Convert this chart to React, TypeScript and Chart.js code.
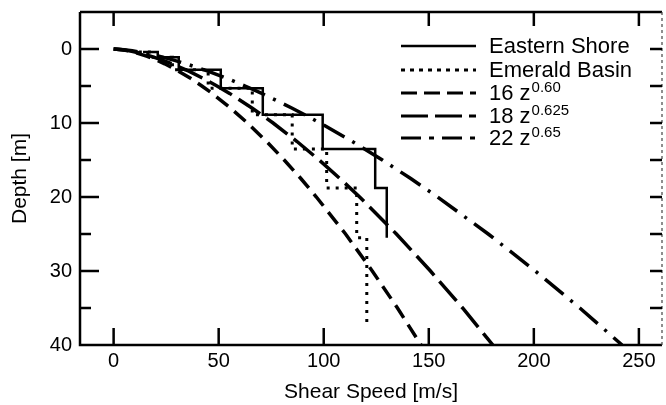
import { useEffect, useRef } from "react";
import { Chart, registerables } from "chart.js";
Chart.register(...registerables);

// ---- data ----
const depthGrid = [0, 0.1, 0.25, 0.5, 1, 1.5, 2, 3, 4, 5, 6, 8, 10, 12.5, 15, 17.5, 20, 25, 30, 35, 40];
const fit16 = [0, 4.0, 7.0, 10.6, 16, 20.4, 24.3, 30.9, 36.8, 42.0, 46.9, 55.7, 63.7, 72.8, 81.2, 89.1, 96.5, 110.4, 123.1, 135.1, 146.3];
const fit18 = [0, 4.3, 7.6, 11.7, 18, 23.2, 27.8, 35.8, 42.8, 49.2, 55.2, 66.0, 75.9, 87.3, 97.8, 107.7, 117.1, 134.6, 150.8, 166.1, 180.5];
const fit22 = [0, 4.9, 8.9, 14.0, 22, 28.6, 34.5, 44.9, 54.2, 62.6, 70.5, 85.0, 98.3, 113.6, 127.9, 141.4, 154.2, 178.3, 200.7, 221.9, 242.0];

const eastSpeed = [14, 21, 21, 31, 31, 51, 51, 71, 71, 99.5, 99.5, 124.5, 124.5, 130, 130];
const eastDepth = [0.4, 0.4, 1.1, 1.1, 2.8, 2.8, 5.3, 5.3, 8.9, 8.9, 13.5, 13.5, 18.8, 18.8, 25.5];

const emerSpeed = [12, 18, 18, 28, 28, 45, 45, 66, 66, 85, 85, 101.4, 101.4, 115.7, 115.7, 120.5, 120.5];
const emerDepth = [0.4, 0.4, 1.1, 1.1, 2.8, 2.8, 5.3, 5.3, 8.9, 8.9, 13.5, 13.5, 18.8, 18.8, 25.5, 25.5, 37.5];

const xTickValues = [0, 50, 100, 150, 200, 250];
const yTickValues = [0, 10, 20, 30, 40];
const yMinorValues = [5, 15, 25, 35];
const yRightTicks = [0, 5, 10, 15, 20, 25, 30, 35];

const legendNames = ["Eastern Shore", "Emerald Basin", "16 z", "18 z", "22 z"];
const legendSup = ["", "", "0.60", "0.625", "0.65"];

const FONT = "'Liberation Sans', Arial, Helvetica, sans-serif";

const dashes: number[][] = [[], [3, 6], [15, 8], [26, 8], [24, 9, 3, 9]];
const legendDashes: number[][] = [[], [4, 5], [16, 7], [27, 7], [20, 8, 5, 8]];
const widths = [2.5, 3, 3.5, 3.5, 3.5];

function pts(xs: number[], ys: number[]) {
  return xs.map((x, i) => ({ x, y: ys[i] }));
}

const framePlugin = {
  id: "frame",
  afterDatasetsDraw(chart: any) {
    const { ctx, chartArea: a, scales } = chart;
    const xs = scales.x;
    const ys = scales.y;
    ctx.save();
    ctx.strokeStyle = "#000";
    ctx.lineCap = "butt";
    ctx.lineWidth = 2.5;
    ctx.setLineDash([]);
    ctx.beginPath();
    ctx.moveTo(a.left, a.top);
    ctx.lineTo(a.left, a.bottom);
    ctx.lineTo(a.right, a.bottom);
    ctx.moveTo(a.left, a.top);
    ctx.lineTo(a.right, a.top);
    ctx.stroke();
    // right (faint dashed)
    ctx.lineWidth = 1.2;
    ctx.strokeStyle = "#444";
    ctx.setLineDash([3, 3]);
    ctx.beginPath();
    ctx.moveTo(a.right, a.top);
    ctx.lineTo(a.right, a.bottom);
    ctx.stroke();
    ctx.setLineDash([]);
    ctx.strokeStyle = "#000";
    ctx.lineWidth = 2.5;
    ctx.beginPath();
    for (const v of xTickValues) {
      const px = xs.getPixelForValue(v);
      ctx.moveTo(px, a.top);
      ctx.lineTo(px, a.top + 14);
      ctx.moveTo(px, a.bottom);
      ctx.lineTo(px, a.bottom - 17);
    }
    for (const v of yTickValues) {
      if (v === 40) continue;
      const py = ys.getPixelForValue(v);
      ctx.moveTo(a.left, py);
      ctx.lineTo(a.left + 19, py);
    }
    for (const v of yMinorValues) {
      const py = ys.getPixelForValue(v);
      ctx.moveTo(a.left, py);
      ctx.lineTo(a.left + 11, py);
    }
    for (const v of yRightTicks) {
      const py = ys.getPixelForValue(v);
      ctx.moveTo(a.right, py);
      ctx.lineTo(a.right - 12, py);
    }
    ctx.stroke();
    ctx.restore();
  },
};

const legendPlugin = {
  id: "customLegend",
  afterDraw(chart: any) {
    const { ctx } = chart;
    ctx.save();
    const x0 = 401;
    const x1 = 476;
    const tx = 489;
    const baselines = [53, 77, 100, 123, 145];
    legendNames.forEach((name, i) => {
      const by = baselines[i];
      const ly = by - 7;
      ctx.strokeStyle = "#000";
      ctx.lineWidth = Math.min(widths[i], 3);
      ctx.setLineDash(legendDashes[i]);
      ctx.beginPath();
      ctx.moveTo(x0, ly);
      ctx.lineTo(x1, ly);
      ctx.stroke();
      ctx.setLineDash([]);
      ctx.fillStyle = "#000";
      ctx.textBaseline = "alphabetic";
      ctx.textAlign = "left";
      ctx.font = `22px ${FONT}`;
      ctx.fillText(name, tx, by);
      if (legendSup[i]) {
        const w = ctx.measureText(name).width;
        ctx.font = `15px ${FONT}`;
        ctx.fillText(legendSup[i], tx + w + 1, by - 8);
      }
    });
    ctx.restore();
  },
};

export default function App() {
  const ref = useRef<HTMLCanvasElement | null>(null);
  useEffect(() => {
    if (!ref.current) return;
    const series = [
      pts(eastSpeed, eastDepth),
      pts(emerSpeed, emerDepth),
      pts(fit16, depthGrid),
      pts(fit18, depthGrid),
      pts(fit22, depthGrid),
    ];
    const chart = new Chart(ref.current, {
      type: "scatter",
      data: {
        datasets: series.map((d, i) => ({
          label: legendNames[i] + (legendSup[i] ? "^" + legendSup[i] : ""),
          data: d,
          showLine: true,
          borderColor: "#000",
          backgroundColor: "#000",
          borderWidth: widths[i],
          borderDash: dashes[i],
          pointRadius: 0,
          tension: 0,
          fill: false,
        })),
      },
      options: {
        animation: false,
        responsive: false,
        layout: { padding: { top: 12, right: 4, left: 0, bottom: 0 } },
        plugins: { legend: { display: false }, tooltip: { enabled: false } },
        scales: {
          x: {
            type: "linear",
            min: -16,
            max: 261,
            grid: { display: false, drawTicks: false },
            border: { display: false },
            afterBuildTicks: (s: any) => {
              s.ticks = xTickValues.map((v) => ({ value: v }));
            },
            afterFit: (s: any) => {
              s.height = 60;
              s.paddingLeft = 0;
              s.paddingRight = 0;
            },
            ticks: {
              color: "#000",
              font: { family: FONT, size: 20 },
              padding: 4,
              maxRotation: 0,
              autoSkip: false,
            },
            title: {
              display: true,
              text: "Shear Speed [m/s]",
              color: "#000",
              font: { family: FONT, size: 21 },
              padding: { top: 0, bottom: 0 },
            },
          },
          y: {
            type: "linear",
            reverse: true,
            min: -5,
            max: 40,
            grid: { display: false, drawTicks: false },
            border: { display: false },
            afterBuildTicks: (s: any) => {
              s.ticks = yTickValues.map((v) => ({ value: v }));
            },
            afterFit: (s: any) => {
              s.width = 80;
              s.paddingTop = 0;
              s.paddingBottom = 0;
            },
            ticks: {
              color: "#000",
              font: { family: FONT, size: 20 },
              padding: 8,
              autoSkip: false,
            },
            title: {
              display: true,
              text: "Depth [m]",
              color: "#000",
              font: { family: FONT, size: 21 },
              padding: { top: 8, bottom: 0 },
            },
          },
        },
      },
      plugins: [framePlugin, legendPlugin],
    } as any);
    return () => chart.destroy();
  }, []);
  return (
    <div style={{ position: "absolute", left: 0, top: 0, width: 666, height: 405, background: "#fff" }}>
      <canvas ref={ref} width={666} height={405} />
    </div>
  );
}
